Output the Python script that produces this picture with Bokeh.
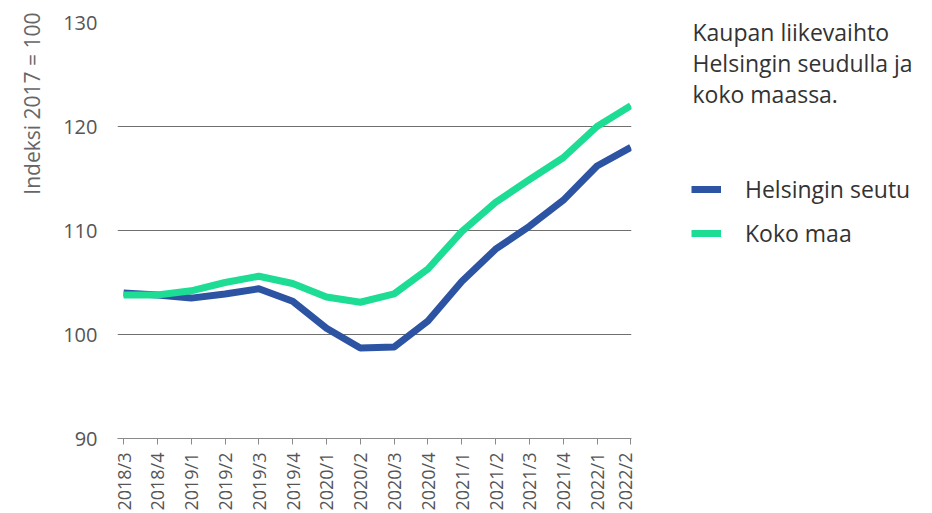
import math
from bokeh.plotting import figure
from bokeh.layouts import row
from bokeh.models import (Range1d, FixedTicker, Label, Legend, LegendItem, Title)
from bokeh.embed import file_html
from bokeh.resources import INLINE

quarters = ["2018/3", "2018/4", "2019/1", "2019/2", "2019/3", "2019/4",
            "2020/1", "2020/2", "2020/3", "2020/4", "2021/1", "2021/2",
            "2021/3", "2021/4", "2022/1", "2022/2"]
helsinki = [104.0, 103.8, 103.5, 103.9, 104.4, 103.2, 100.6, 98.7,
            98.8, 101.3, 105.1, 108.2, 110.4, 112.9, 116.2, 118.0]
koko_maa = [103.8, 103.8, 104.2, 105.0, 105.6, 104.9, 103.6, 103.1,
            103.9, 106.3, 109.9, 112.7, 114.9, 117.0, 120.0, 122.0]
y_ticks = [90, 100, 110, 120, 130]

series_names = ["Helsingin seutu", "Koko maa"]
colors = ["#2d54a3", "#1ddc93"]
title_lines = ["Kaupan liikevaihto", "Helsingin seudulla ja", "koko maassa."]
y_label_text = "Indeksi 2017 = 100"

FONT = "Open Sans"
W, H = 932, 513
W1 = 636              # main chart width
W2 = W - W1           # side panel width
TOP, BOTTOM = 22, 74  # shared frame borders
x = list(range(len(quarters)))

# ---------------- main chart ----------------
p = figure(width=W1, height=H, output_backend="svg", toolbar_location=None,
           title=None,
           x_range=Range1d(-0.18, 15.02), y_range=Range1d(90, 130),
           min_border_left=114, min_border_right=5, min_border_top=TOP,
           min_border_bottom=BOTTOM)
p.outline_line_color = None
p.background_fill_color = "white"
p.border_fill_color = "white"

p.line(x, helsinki, line_color=colors[0], line_width=7, line_join="round")
p.line(x, koko_maa, line_color=colors[1], line_width=7, line_join="round")

p.xgrid.grid_line_color = None
p.ygrid.grid_line_color = "#6f6f6f"
p.ygrid.grid_line_width = 1
p.ygrid.ticker = FixedTicker(ticks=y_ticks)

p.yaxis.ticker = FixedTicker(ticks=y_ticks)
p.yaxis.axis_line_color = None
p.yaxis.major_tick_line_color = None
p.yaxis.major_tick_out = 0
p.yaxis.major_tick_in = 0
p.yaxis.minor_tick_line_color = None
p.yaxis.major_label_standoff = 20
p.yaxis.major_label_text_font = FONT
p.yaxis.major_label_text_font_size = "20px"
p.yaxis.major_label_text_color = "#555555"

p.xaxis.ticker = FixedTicker(ticks=x)
p.xaxis.major_label_overrides = {i: q for i, q in zip(x, quarters)}
p.xaxis.major_label_orientation = math.pi / 2
p.xaxis.axis_line_color = "#8a8a8a"
p.xaxis.major_tick_line_color = "#8a8a8a"
p.xaxis.major_tick_out = 6
p.xaxis.major_tick_in = 0
p.xaxis.minor_tick_line_color = None
p.xaxis.major_label_standoff = 8
p.xaxis.major_label_text_font = FONT
p.xaxis.major_label_text_font_size = "18px"
p.xaxis.major_label_text_color = "#555555"

ytitle = Title(text=y_label_text, align="right", offset=-10, standoff=30,
               text_font=FONT, text_font_size="21px", text_color="#666666",
               text_font_style="normal")
p.add_layout(ytitle, "left")

# ---------------- side panel (title + legend) ----------------
# frame aligned with the main chart; data units equal page pixels (y from bottom)
p2 = figure(width=W2, height=H, output_backend="svg", toolbar_location=None,
            title=None, x_range=Range1d(0, W2), y_range=Range1d(BOTTOM, H - TOP),
            x_axis_type=None, y_axis_type=None,
            min_border_left=0, min_border_right=0, min_border_top=TOP,
            min_border_bottom=BOTTOM)
p2.outline_line_color = None
p2.grid.visible = False
p2.background_fill_color = "white"
p2.border_fill_color = "white"

for i, line in enumerate(title_lines):
    p2.add_layout(Label(x=56, y=H - (32 + 31 * i), text=line,
                        text_align="left", text_baseline="alphabetic",
                        text_font=FONT, text_font_size="23px",
                        text_color="#333333"))

l1 = p2.line(x, helsinki, line_color=colors[0], line_width=7, visible=False)
l2 = p2.line(x, koko_maa, line_color=colors[1], line_width=7, visible=False)

legend = Legend(items=[LegendItem(label=series_names[0], renderers=[l1]),
                       LegendItem(label=series_names[1], renderers=[l2])],
                location=(55, 189), orientation="vertical")
legend.border_line_color = None
legend.background_fill_alpha = 0
legend.inactive_fill_alpha = 0
legend.padding = 0
legend.margin = 0
legend.glyph_width = 30
legend.glyph_height = 20
legend.label_height = 20
legend.spacing = 12
legend.label_standoff = 24
legend.label_text_font = FONT
legend.label_text_font_size = "23px"
legend.label_text_color = "#333333"
legend.label_text_baseline = "middle"
p2.add_layout(legend)

layout = row(p, p2, spacing=0)
open("out.html", "w").write(file_html(layout, INLINE))
